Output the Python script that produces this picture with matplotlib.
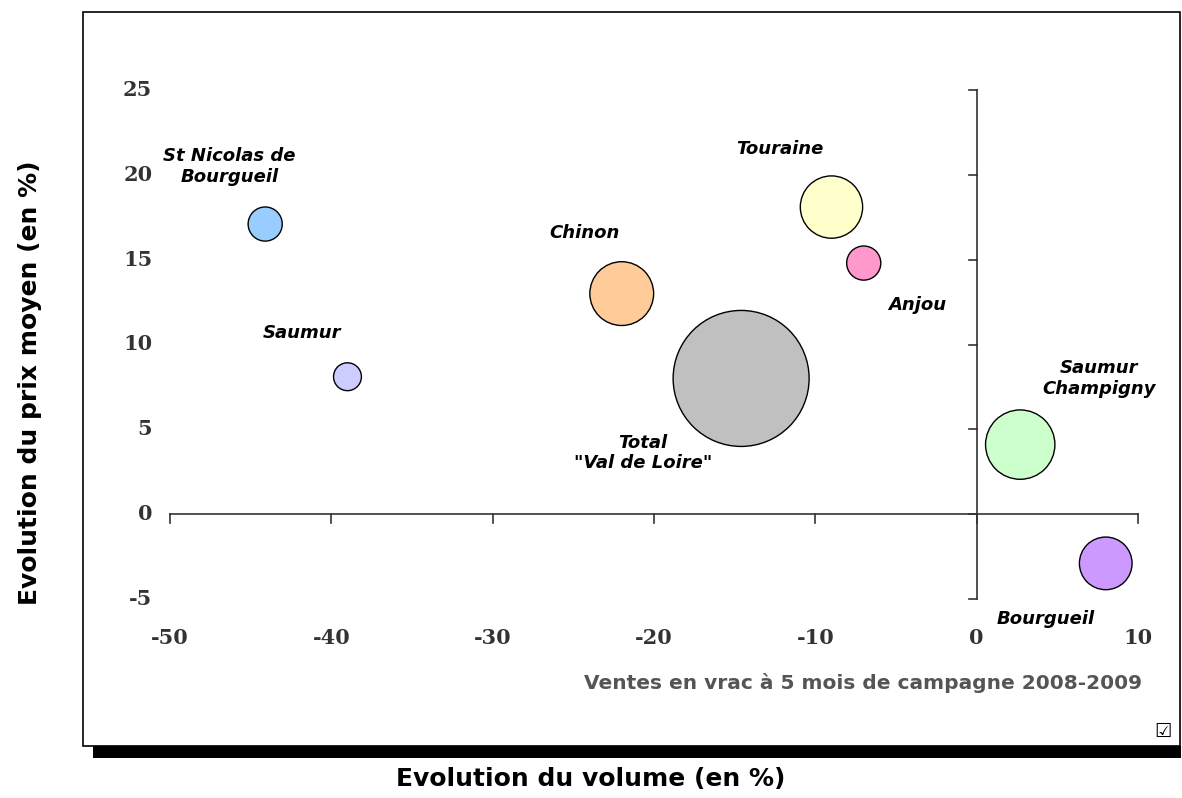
import numpy as np
import matplotlib.pyplot as plt
from matplotlib.patches import Rectangle

# ---------- data ----------
NAMES   = ["St Nicolas de\nBourgueil", "Saumur", "Chinon", "Total\n\"Val de Loire\"",
           "Touraine", "Anjou", "Saumur\nChampigny", "Bourgueil"]
VOLUME  = [-44.1, -39.0, -22.0, -14.6, -9.0, -7.0, 2.7, 8.0]   # evolution du volume (%)
PRICE   = [17.1, 8.1, 13.0, 8.0, 18.1, 14.8, 4.1, -2.9]        # evolution du prix moyen (%)
BUBBLE  = [6.3, 4.2, 22.0, 100.0, 21.0, 6.3, 26.0, 15.0]       # bubble size (relative)
COLORS  = ["#99CCFF", "#CCCCFF", "#FFCC99", "#C0C0C0", "#FFFFCC", "#FF99CC", "#CCFFCC", "#CC99FF"]
X_TICKS = [-50, -40, -30, -20, -10, 0, 10]
Y_TICKS = [-5, 0, 5, 10, 15, 20, 25]

# label placement (data coords), layout only
LABEL_XY = [(-46.3, 20.5), (-41.8, 10.7), (-24.3, 16.6), (-20.7, 3.6),
            (-12.2, 21.5), (-3.7, 12.3), (7.6, 8.0), (4.3, -6.2)]

W, H, DPI = 1182, 798, 100
fig = plt.figure(figsize=(W / DPI, H / DPI), dpi=DPI)

def px(x0, y0, x1, y1):
    # pixel box (top-left origin) -> figure fraction rect
    return [x0 / W, 1 - y1 / H, (x1 - x0) / W, (y1 - y0) / H]

# outer frame with shadow
fig.patches.append(Rectangle((93 / W, 1 - 758 / H), (1181 - 93) / W, 12 / H, zorder=-10,
                             transform=fig.transFigure, facecolor="black", edgecolor="none"))
fig.patches.append(Rectangle((83 / W, 1 - 746 / H), (1180 - 83) / W, (746 - 12) / H, zorder=-9,
                             transform=fig.transFigure, facecolor="white", edgecolor="black", lw=1.2))

ax = fig.add_axes(px(170, 90, 1138, 599))
ax.set_xlim(-50, 10)
ax.set_ylim(-5, 25)
ax.axis("off")

AXC = "#333333"
# axes crossing at zero
ax.plot([-50, 10], [0, 0], color=AXC, lw=1.2, clip_on=False)
ax.plot([0, 0], [-5, 25], color=AXC, lw=1.2, clip_on=False)
for t in X_TICKS:
    ax.plot([t, t], [0, -0.5], color=AXC, lw=1.2, clip_on=False)
for t in Y_TICKS:
    ax.plot([0, -0.5], [t, t], color=AXC, lw=1.2, clip_on=False)

# tick labels at low edges
for t in X_TICKS:
    ax.text(t, -7.3, str(t), ha="center", va="center", fontsize=15, fontweight="bold",
            family="DejaVu Serif", color=AXC)
for t in Y_TICKS:
    ax.text(-51.1, t, str(t), ha="right", va="center", fontsize=15, fontweight="bold",
            family="DejaVu Serif", color=AXC)

# bubbles: radius in px proportional to sqrt(size)
rmax = 68
radii = rmax * np.sqrt(np.array(BUBBLE) / max(BUBBLE))
sizes = (2 * radii * 72 / DPI) ** 2
order = np.argsort(BUBBLE)[::-1]
ax.scatter(np.array(VOLUME)[order], np.array(PRICE)[order], s=sizes[order],
           c=np.array(COLORS)[order], edgecolors="black", linewidths=1, clip_on=False, zorder=3)

for name, (lx, ly) in zip(NAMES, LABEL_XY):
    ax.text(lx, ly, name, ha="center", va="center", fontsize=13, fontweight="bold",
            fontstyle="italic", family="DejaVu Sans", linespacing=1.2, zorder=4)

fig.text(1142 / W, 1 - 683 / H, "Ventes en vrac à 5 mois de campagne 2008-2009",
         ha="right", va="center", fontsize=14.5, fontweight="bold", color="#555555",
         family="DejaVu Sans")
fig.text(1163 / W, 1 - 731 / H, "\u2611", ha="center", va="center", fontsize=14, family="DejaVu Sans")

fig.text(591 / W, 1 - 779 / H, "Evolution du volume (en %)", ha="center", va="center",
         fontsize=18, fontweight="bold", family="DejaVu Sans")
fig.text(30 / W, 1 - 383 / H, "Evolution du prix moyen (en %)", ha="center", va="center",
         rotation=90, fontsize=18, fontweight="bold", family="DejaVu Sans")

fig.savefig("out.png", dpi=DPI)
